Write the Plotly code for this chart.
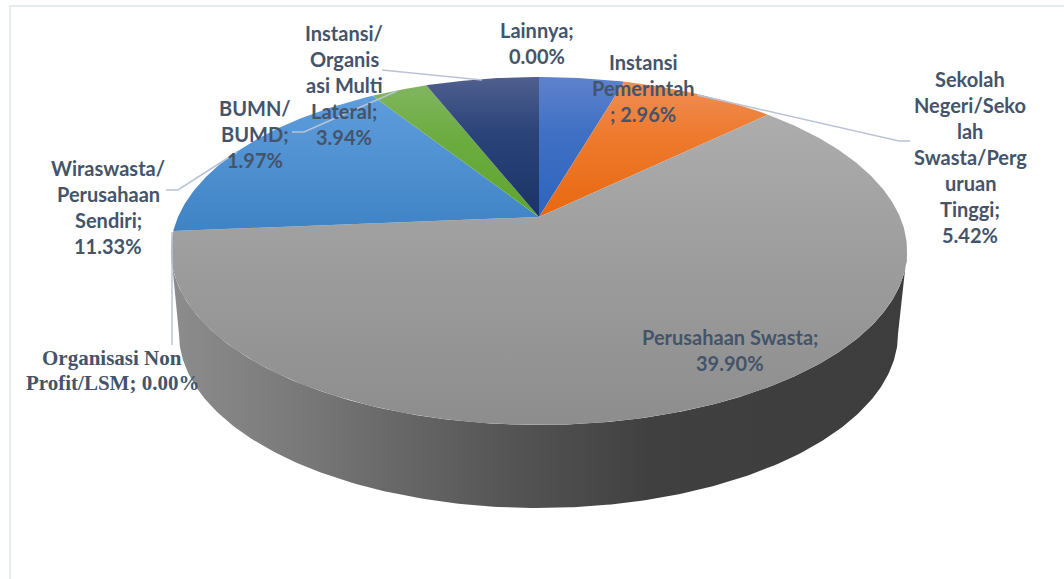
import numpy as np
import plotly.graph_objects as go

# ---------- data ----------
categories = ["Instansi Pemerintah", "Sekolah Negeri/Sekolah Swasta/Perguruan Tinggi",
              "Perusahaan Swasta", "Organisasi Non Profit/LSM", "Wiraswasta/Perusahaan Sendiri",
              "BUMN/BUMD", "Instansi/Organisasi Multi Lateral", "Lainnya"]
values = [2.96, 5.42, 39.90, 0.00, 11.33, 1.97, 3.94, 0.00]

# ---------- styles ----------
top_colors = [("#5f82cc", "#3f70c4", "#2f63bd"), ("#ef8e55", "#ee7a2e", "#e8680f"),
              ("#adadad", "#9f9f9f", "#8d8d8d"), ("#ffc000", "#ffc000", "#ffc000"),
              ("#5f9ddc", "#5293d3", "#3f83c4"), ("#80b65f", "#6cac40", "#5fa42e"),
              ("#505f8e", "#2a4379", "#1a3467"), ("#264478", "#264478", "#264478")]
wall_stops = [(175, "#8c8c8c"), (300, "#797979"), (400, "#676767"), (520, "#535353"),
              (650, "#404040"), (908, "#3d3d3d")]
TEXT = "#44546A"
LEAD = "#b8c4d6"
FRAME = "#dfe5ef"

# ---------- projection of the pie disc onto the page ----------
APEX_X, APEX_Y, R, P, Q = 539.0, 217.0, 361.0, -124.95, 0.1954


def rim(theta):
    d = 1 + Q * np.cos(theta)
    return APEX_X + R * np.sin(theta) / d, (APEX_Y + P * np.cos(theta)) / d


def lower_rim(theta):
    return 538.5 + 359.5 * np.sin(theta), 334.0 - 174.0 * np.cos(theta)


fig = go.Figure()

# side wall, from the right extreme of the rim round the front to the left extreme
t_top = np.linspace(np.radians(101.3), np.radians(258.7), 240)
t_low = np.linspace(np.pi / 2, 3 * np.pi / 2, 240)
xt, yt = rim(t_top)
xl, yl = lower_rim(t_low)
wx = np.concatenate([xt, xl[::-1]])
wy = np.concatenate([yt, yl[::-1]])
x0, x1 = wall_stops[0][0], wall_stops[-1][0]
fig.add_trace(go.Scatter(
    x=wx, y=wy, mode="lines", line=dict(width=0), fill="toself", hoverinfo="skip",
    fillgradient=dict(type="horizontal", start=x0, stop=x1,
                      colorscale=[[(x - x0) / (x1 - x0), c] for x, c in wall_stops])))

# top face slices, angles derived from the values
total = sum(values)
cum = 0.0
for name, v, (c_top, c_mid, c_bot) in zip(categories, values, top_colors):
    a0 = cum / total * 2 * np.pi
    cum += v
    a1 = cum / total * 2 * np.pi
    if v == 0:
        continue
    t = np.linspace(a0, a1, max(12, int((a1 - a0) * 90)))
    xs, ys = rim(t)
    px = np.concatenate([[APEX_X], xs, [APEX_X]])
    py = np.concatenate([[APEX_Y], ys, [APEX_Y]])
    ymin, ymax = float(py.min()), float(py.max())
    fig.add_trace(go.Scatter(
        x=px, y=py, mode="lines", line=dict(width=0), fill="toself", name=name, hoverinfo="name",
        fillgradient=dict(type="vertical", start=ymin, stop=ymax,
                          colorscale=[[0, c_top], [0.4, c_mid], [1, c_bot]])))

# ---------- labels ----------
SANS = "Lato"
SERIF = "Liberation Serif"
labels = [
    (["Wiraswasta/", "Perusahaan", "Sendiri;", "11.33%"], 108, 168, SANS),
    (["BUMN/", "BUMD;", "1.97%"], 255, 108, SANS),
    (["Instansi/", "Organis", "asi Multi", "Lateral;", "3.94%"], 344, 33, SANS),
    (["Lainnya;", "0.00%"], 537, 30, SANS),
    (["Instansi", "Pemerintah", "; 2.96%"], 643, 62, SANS),
    (["Sekolah", "Negeri/Seko", "lah", "Swasta/Perg", "uruan", "Tinggi;", "5.42%"], 970, 79, SANS),
    (["Perusahaan Swasta;", "39.90%"], 730, 337, SANS),
    (["Organisasi Non", "Profit/LSM; 0.00%"], 112, 358, SERIF),
]
annotations = []
for lines, cx, y0, fam in labels:
    for i, s in enumerate(lines):
        annotations.append(dict(
            x=cx, y=y0 + i * (25 if fam == SERIF else 26), text=s, showarrow=False,
            xanchor="center", yanchor="middle",
            font=dict(family=fam, size=21 if fam == SERIF else 20, color=TEXT, weight="bold")))

# ---------- leader lines and frame ----------
leaders = [
    [(382, 70), (482, 80)],
    [(292, 132), (304, 132), (397, 91)],
    [(166, 190), (178, 190), (237, 152)],
    [(910, 141), (899, 141), (697, 95)],
    [(172, 232), (172, 345)],
]
shapes = []
for pts in leaders:
    path = "M " + " L ".join(f"{a},{b}" for a, b in pts)
    shapes.append(dict(type="path", path=path, line=dict(color=LEAD, width=1.5), layer="above"))
shapes.append(dict(type="path", path="M 10,579 L 10,6 L 1064,6", line=dict(color=FRAME, width=1.5), layer="below"))

fig.update_layout(
    width=1064, height=579, margin=dict(l=0, r=0, t=0, b=0), autosize=False,
    paper_bgcolor="white", plot_bgcolor="white", showlegend=False,
    xaxis=dict(range=[0, 1064], visible=False, fixedrange=True),
    yaxis=dict(range=[579, 0], visible=False, fixedrange=True),
    annotations=annotations, shapes=shapes,
)
fig.write_html("out.html", config=dict(displayModeBar=False),
               post_script="document.body.style.margin='0';document.documentElement.style.overflow='hidden';")
